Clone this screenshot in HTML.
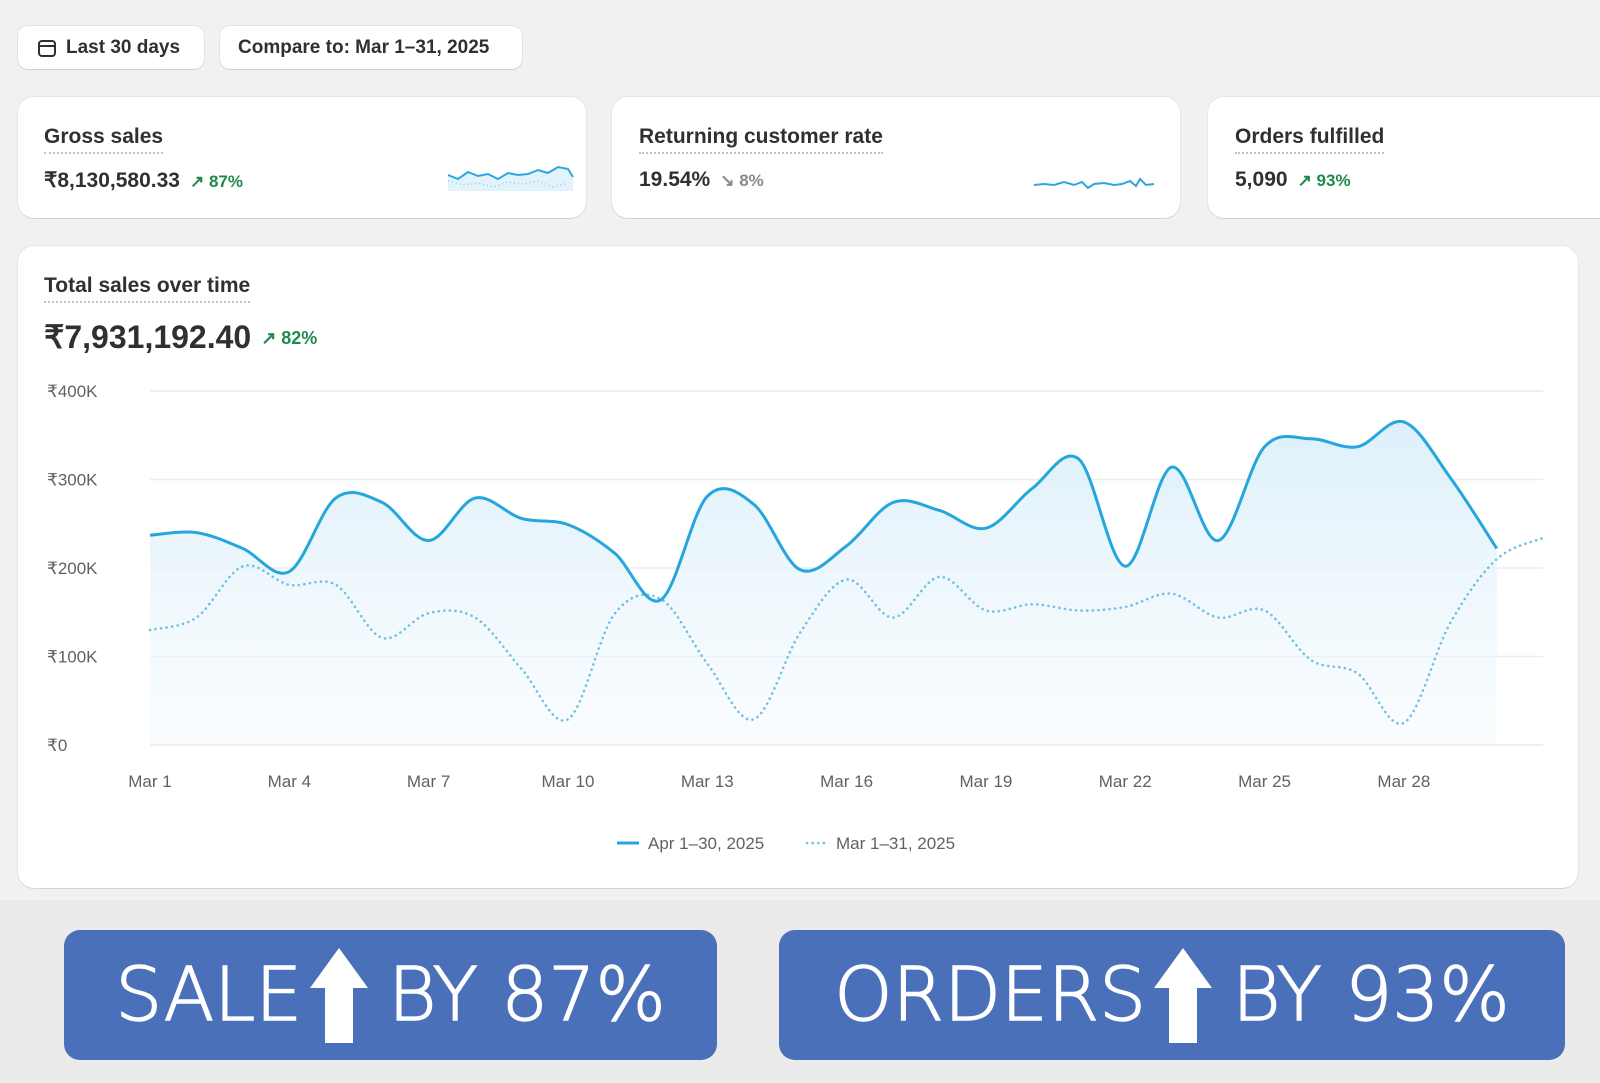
<!DOCTYPE html>
<html><head><meta charset="utf-8">
<style>
*{box-sizing:border-box;margin:0;padding:0}
body{width:1600px;height:1083px;background:#f1f1f1;font-family:"Liberation Sans",sans-serif;color:#303030;position:relative;overflow:hidden}
.btn{position:absolute;top:26px;height:43px;background:#fff;border-radius:10px;box-shadow:0 1px 0 #d0d0d0,0 0 0 1px #e4e4e4;font-size:19px;font-weight:bold;color:#303030;display:flex;align-items:center;padding-left:18px}
.card{position:absolute;background:#fff;border-radius:16px;box-shadow:0 1px 0 #d4d4d4,0 0 0 1px #e6e6e6}
.lbl{position:absolute;font-size:21px;font-weight:bold;color:#303030;border-bottom:2px dotted #c4c4c4;padding-bottom:3px}
.val{position:absolute;font-size:21px;font-weight:bold;color:#303030}
.pct{font-size:17px;font-weight:bold;color:#1f8a4c;margin-left:10px}
.bottom{position:absolute;left:0;top:900px;width:1600px;height:183px;background:#ebebeb}
.promo{position:absolute;top:930px;height:130px;background:#4a70b9;border-radius:16px;color:#fff;font-family:"DejaVu Sans ExtraLight","DejaVu Sans",sans-serif;font-size:74px;font-weight:200;-webkit-text-stroke:1.4px #fff;display:flex;align-items:center;justify-content:center}
</style></head><body>
<div class="btn" style="left:18px;width:186px">
<svg width="22" height="22" viewBox="0 0 22 22" style="margin-right:8px"><rect x="3" y="4" width="16" height="15" rx="3" fill="none" stroke="#303030" stroke-width="2"/><line x1="3" y1="9" x2="19" y2="9" stroke="#303030" stroke-width="2"/></svg>Last 30 days</div>
<div class="btn" style="left:220px;width:302px">Compare to: Mar 1–31, 2025</div>

<div class="card" style="left:18px;top:97px;width:568px;height:121px">
<div class="lbl" style="left:26px;top:28px">Gross sales</div>
<div class="val" style="left:26px;top:71px">₹8,130,580.33<span class="pct">↗ 87%</span></div>
<svg style="position:absolute;left:410px;top:60px" width="150" height="40"><path d="M20,18 L30,22 L40,15 L50,19 L60,17 L70,22 L80,16 L90,18 L100,17 L110,13 L120,16 L130,10 L140,12 L145,20 L145,34 L20,34Z" fill="#e3f3fb"/><polyline points="20,18 30,22 40,15 50,19 60,17 70,22 80,16 90,18 100,17 110,13 120,16 130,10 140,12 145,20" fill="none" stroke="#2aa8dd" stroke-width="2"/><polyline points="20,24 35,28 50,26 65,30 80,25 95,27 110,24 125,30 140,26" fill="none" stroke="#8fcbe8" stroke-width="1.5" stroke-dasharray="1 3"/></svg>
</div>
<div class="card" style="left:612px;top:97px;width:568px;height:121px">
<div class="lbl" style="left:27px;top:28px">Returning customer rate</div>
<div class="val" style="left:27px;top:71px">19.54%<span class="pct" style="color:#8a8a8a">↘ 8%</span></div>
<svg style="position:absolute;left:410px;top:60px" width="150" height="40"><polyline points="12,28 22,27 32,28 42,25 52,28 60,25 66,31 72,27 82,26 92,28 100,27 108,24 114,29 118,22 124,28 132,27" fill="none" stroke="#2aa8dd" stroke-width="2"/></svg>
</div>
<div class="card" style="left:1208px;top:97px;width:420px;height:121px">
<div class="lbl" style="left:27px;top:28px">Orders fulfilled</div>
<div class="val" style="left:27px;top:71px">5,090<span class="pct">↗ 93%</span></div>
</div>

<div class="card" style="left:18px;top:246px;width:1560px;height:642px">
<div class="lbl" style="left:26px;top:28px">Total sales over time</div>
<div class="val" style="left:26px;top:72px;font-size:32px">₹7,931,192.40<span class="pct" style="font-size:18px;vertical-align:4px">↗ 82%</span></div>
</div>
<svg id="chart" style="position:absolute;left:0;top:0" width="1600" height="900">
<defs><linearGradient id="g" x1="0" y1="0" x2="0" y2="1"><stop offset="0" stop-color="#d8eef9" stop-opacity="0.9"/><stop offset="1" stop-color="#f2f9fd" stop-opacity="0.4"/></linearGradient></defs>
</svg>
<div class="bottom"></div>
<div class="promo" style="left:64px;width:653px">SALE<svg width="58" height="95" viewBox="0 0 58 95" style="margin:0 20px 0 8px"><polygon points="29,0 58,40 43,40 43,95 15,95 15,40 0,40" fill="#fff"/></svg>BY 87%</div>
<div class="promo" style="left:779px;width:786px">ORDERS<svg width="58" height="95" viewBox="0 0 58 95" style="margin:0 20px 0 8px"><polygon points="29,0 58,40 43,40 43,95 15,95 15,40 0,40" fill="#fff"/></svg>BY 93%</div>
<script>
const yTicks=[0,100,200,300,400];
const xTickDays=[1,4,7,10,13,16,19,22,25,28];
const aprValues=[237,240,222,196,279,274,231,279,256,249,217,164,281,272,198,225,274,265,245,290,323,202,314,231,337,346,337,365,302,222];
const marValues=[130,144,202,181,181,121,149,144,86,29,148,165,92,29,127,187,144,190,152,159,152,156,171,144,152,96,81,25,138,210,234];
const legendLabels=["Apr 1–30, 2025","Mar 1–31, 2025"];
const svg=document.getElementById('chart');
const NS='http://www.w3.org/2000/svg';
const x0=150,dx=46.44,yb=745,pk=88.5/100;
const X=i=>x0+i*dx, Y=v=>yb-v*pk;
function mk(t,a){const e=document.createElementNS(NS,t);for(const k in a)e.setAttribute(k,a[k]);svg.appendChild(e);return e;}
function smooth(vals){const p=vals.map((v,i)=>[X(i),Y(v)]);let d='M'+p[0][0]+','+p[0][1];
for(let i=0;i<p.length-1;i++){const a=p[i-1]||p[i],b=p[i],c=p[i+1],e=p[i+2]||c;
d+=` C${b[0]+(c[0]-a[0])/6},${b[1]+(c[1]-a[1])/6} ${c[0]-(e[0]-b[0])/6},${c[1]-(e[1]-b[1])/6} ${c[0]},${c[1]}`;}return d;}
yTicks.forEach(v=>{
const l=mk('line',{x1:150,x2:1543,y1:Y(v),y2:Y(v),stroke:'#ececec','stroke-width':1.5});


const t=mk('text',{x:47,y:Y(v)+6,'font-size':17,fill:'#616161','font-family':'Liberation Sans'});t.textContent='₹'+(v?v+'K':'0');


});
xTickDays.forEach(d=>{const t=mk('text',{x:X(d-1),y:787,'font-size':17,fill:'#616161','text-anchor':'middle','font-family':'Liberation Sans'});t.textContent='Mar '+d;


});
const ap=smooth(aprValues);
const area=mk('path',{d:ap+` L${X(aprValues.length-1)},${yb} L${X(0)},${yb}Z`,fill:'url(#g)'});


const ml=mk('path',{d:smooth(marValues),fill:'none',stroke:'#6fc0e4','stroke-width':2.6,'stroke-dasharray':'0.1 5.5','stroke-linecap':'round'});


const al=mk('path',{d:ap,fill:'none',stroke:'#25a6dc','stroke-width':3});


const l1=mk('line',{x1:617,x2:639,y1:843,y2:843,stroke:'#25a6dc','stroke-width':3});


const t1=mk('text',{x:648,y:849,'font-size':17,fill:'#616161','font-family':'Liberation Sans'});t1.textContent=legendLabels[0];


const l2=mk('line',{x1:807,x2:827,y1:843,y2:843,stroke:'#6fc0e4','stroke-width':2.6,'stroke-dasharray':'0.1 5.5','stroke-linecap':'round'});


const t2=mk('text',{x:836,y:849,'font-size':17,fill:'#616161','font-family':'Liberation Sans'});t2.textContent=legendLabels[1];


</script>
</body></html>
